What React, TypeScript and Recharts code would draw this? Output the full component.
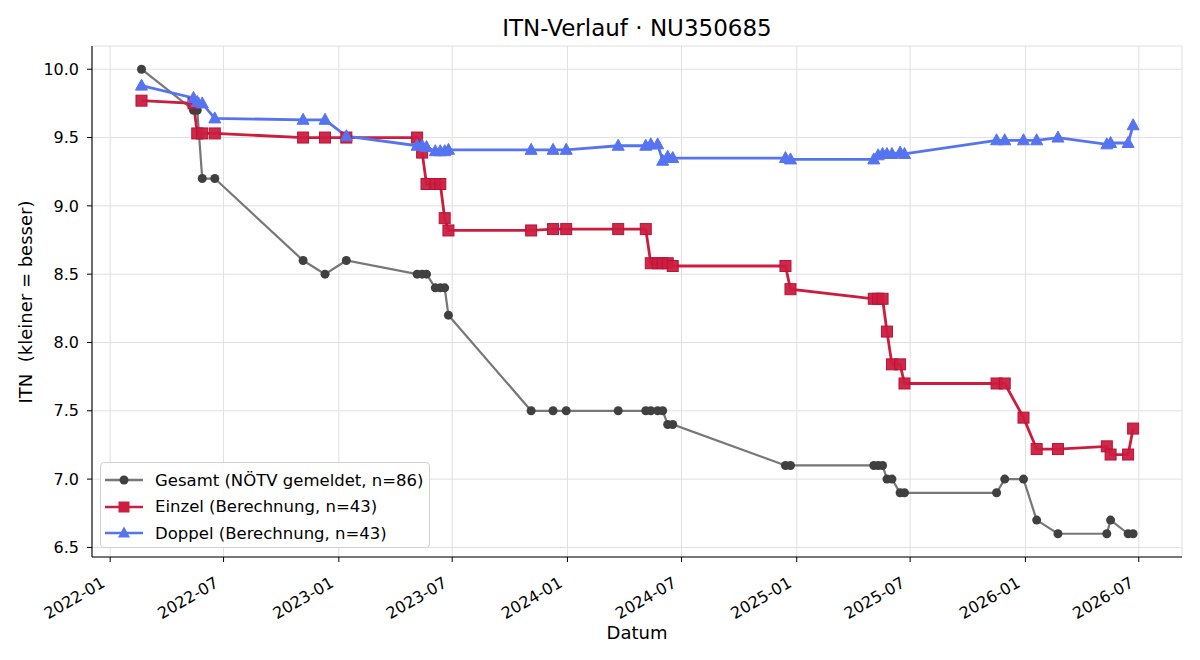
import React from 'react';
import { LineChart, Line, XAxis, YAxis, CartesianGrid, Legend } from 'recharts';

// Messzeitpunkte (gemeinsam für alle drei Reihen)
const dates = [
  '2022-02-20', '2022-05-14', '2022-05-20', '2022-05-28', '2022-06-17',
  '2022-11-05', '2022-12-10', '2023-01-13', '2023-05-06', '2023-05-14',
  '2023-05-21', '2023-06-04', '2023-06-12', '2023-06-19', '2023-06-25',
  '2023-11-04', '2023-12-09', '2023-12-30', '2024-03-22', '2024-05-05',
  '2024-05-13', '2024-05-24', '2024-06-01', '2024-06-09', '2024-06-17',
  '2024-12-14', '2024-12-22', '2025-05-04', '2025-05-11', '2025-05-18',
  '2025-05-25', '2025-06-02', '2025-06-15', '2025-06-22', '2025-11-16',
  '2025-11-29', '2025-12-29', '2026-01-19', '2026-02-22', '2026-05-11',
  '2026-05-17', '2026-06-14', '2026-06-22',
];

const gesamt = [
  10.0, 9.7, 9.7, 9.2, 9.2, 8.6, 8.5, 8.6, 8.5, 8.5,
  8.5, 8.4, 8.4, 8.4, 8.2, 7.5, 7.5, 7.5, 7.5, 7.5,
  7.5, 7.5, 7.5, 7.4, 7.4, 7.1, 7.1, 7.1, 7.1, 7.1,
  7.0, 7.0, 6.9, 6.9, 6.9, 7.0, 7.0, 6.7, 6.6, 6.6,
  6.7, 6.6, 6.6,
];

const einzel = [
  9.77, 9.75, 9.53, 9.53, 9.53, 9.5, 9.5, 9.5, 9.5, 9.39,
  9.16, 9.16, 9.16, 8.91, 8.82, 8.82, 8.83, 8.83, 8.83, 8.83,
  8.58, 8.58, 8.58, 8.58, 8.56, 8.56, 8.39, 8.32, 8.32, 8.32,
  8.08, 7.84, 7.84, 7.7, 7.7, 7.7, 7.45, 7.22, 7.22, 7.24,
  7.18, 7.18, 7.37,
];

const doppel = [
  9.88, 9.79, 9.76, 9.75, 9.64, 9.63, 9.63, 9.51, 9.44, 9.44,
  9.43, 9.4, 9.4, 9.4, 9.41, 9.41, 9.41, 9.41, 9.44, 9.44,
  9.45, 9.45, 9.33, 9.36, 9.35, 9.35, 9.34, 9.34, 9.37, 9.38,
  9.38, 9.38, 9.39, 9.38, 9.48, 9.48, 9.48, 9.48, 9.5, 9.45,
  9.46, 9.46, 9.59,
];

const xTickMonths = [
  '2022-01', '2022-07', '2023-01', '2023-07', '2024-01',
  '2024-07', '2025-01', '2025-07', '2026-01', '2026-07',
];
const yTicks = [6.5, 7.0, 7.5, 8.0, 8.5, 9.0, 9.5, 10.0];
const xRange = ['2021-12-03', '2026-09-08'];
const yRange = [6.43, 10.17];

const FONT = '"DejaVu Sans", sans-serif';
const GREY_LINE = '#777777';
const GREY_DOT = '#404040';
const RED = '#cc1d3f';
const BLUE = '#5673f0';

const data = dates.map((d, i) => ({
  t: Date.parse(d),
  gesamt: gesamt[i],
  einzel: einzel[i],
  doppel: doppel[i],
}));
const xTicks = xTickMonths.map((m) => Date.parse(m + '-01'));
const xDomain = xRange.map((d) => Date.parse(d));

const fmtMonth = (t: number) => {
  const d = new Date(t);
  return `${d.getUTCFullYear()}-${String(d.getUTCMonth() + 1).padStart(2, '0')}`;
};

const CircleDot = (props: any) => {
  const { cx, cy, index } = props;
  if (cx == null || cy == null) return null;
  return <circle key={`c${index}`} cx={cx} cy={cy} r={4.5} fill={GREY_DOT} />;
};

const SquareDot = (props: any) => {
  const { cx, cy, index } = props;
  if (cx == null || cy == null) return null;
  return (
    <rect key={`s${index}`} x={cx - 5.5} y={cy - 5.5} width={11} height={11}
      fill={RED} stroke="#b8123a" strokeWidth={1} fillOpacity={0.95} />
  );
};

const TriangleDot = (props: any) => {
  const { cx, cy, index } = props;
  if (cx == null || cy == null) return null;
  return (
    <polygon key={`t${index}`}
      points={`${cx},${cy - 6.5} ${cx - 6},${cy + 4.5} ${cx + 6},${cy + 4.5}`}
      fill={BLUE} stroke={BLUE} strokeWidth={1} />
  );
};

const XTick = (props: any) => {
  const { x, y, payload } = props;
  const ax = x - 4;
  const ay = y + 22;
  return (
    <text x={ax} y={ay} textAnchor="end" fontSize={16} fontFamily={FONT}
      fill="#000" transform={`rotate(-30, ${ax}, ${ay})`}>
      {fmtMonth(payload.value)}
    </text>
  );
};

const legendItems = [
  { label: 'Gesamt (NÖTV gemeldet, n=86)', color: GREY_LINE, marker: 'circle' },
  { label: 'Einzel (Berechnung, n=43)', color: RED, marker: 'square' },
  { label: 'Doppel (Berechnung, n=43)', color: BLUE, marker: 'triangle' },
];

const LegendBox = () => (
  <div style={{
    background: 'rgba(255,255,255,0.85)', border: '1px solid #d0d0d0', borderRadius: 4,
    width: 330, height: 86, paddingTop: 4, boxSizing: 'border-box', fontFamily: FONT, fontSize: 16.5,
  }}>
    {legendItems.map((it) => (
      <div key={it.label} style={{ display: 'flex', alignItems: 'center', height: 26.5 }}>
        <svg width={38} height={16} style={{ marginLeft: 4 }}>
          <line x1={0} y1={8} x2={38} y2={8} stroke={it.color} strokeWidth={2.5} />
          {it.marker === 'circle' && <circle cx={19} cy={8} r={4.5} fill={GREY_DOT} />}
          {it.marker === 'square' && <rect x={13.5} y={2.5} width={11} height={11} fill={RED} />}
          {it.marker === 'triangle' && <polygon points="19,1.5 13,12.5 25,12.5" fill={BLUE} />}
        </svg>
        <span style={{ marginLeft: 12, color: '#000', whiteSpace: 'nowrap' }}>{it.label}</span>
      </div>
    ))}
  </div>
);

export default function App() {
  return (
    <div style={{ position: 'absolute', left: 0, top: 0, width: 1200, height: 660, background: '#fff', fontFamily: FONT }}>
      <div style={{ position: 'absolute', left: 92, top: 14, width: 1090, textAlign: 'center', fontSize: 23, lineHeight: '28px' }}>
        ITN-Verlauf · NU350685
      </div>
      <div style={{ position: 'absolute', left: 92, top: 622, width: 1090, textAlign: 'center', fontSize: 18, lineHeight: '22px' }}>
        Datum
      </div>
      <div style={{
        position: 'absolute', left: 26, top: 302, fontSize: 18, whiteSpace: 'pre', lineHeight: '22px',
        transform: 'translate(-50%, -50%) rotate(-90deg)',
      }}>
        {'ITN  (kleiner = besser)'}
      </div>
      <LineChart width={1200} height={660} data={data} margin={{ top: 46, right: 18, left: 0, bottom: 0 }}>
        <CartesianGrid stroke="#e0e0e0" strokeWidth={1} />
        <XAxis dataKey="t" type="number" scale="time" domain={xDomain} ticks={xTicks}
          allowDataOverflow height={103} tick={<XTick />} tickSize={5}
          tickLine={{ stroke: '#000' }} axisLine={{ stroke: '#000', strokeWidth: 1.1 }} />
        <XAxis xAxisId="top" dataKey="t" type="number" domain={xDomain} orientation="top"
          height={0} tick={false} tickLine={false} axisLine={{ stroke: '#000', strokeWidth: 1.1 }} />
        <YAxis type="number" domain={yRange} ticks={yTicks} allowDataOverflow width={92}
          tickFormatter={(v: number) => v.toFixed(1)} tickSize={5} tickMargin={8}
          tick={{ fill: '#000', fontSize: 16, fontFamily: FONT }}
          tickLine={{ stroke: '#000' }} axisLine={{ stroke: '#000', strokeWidth: 1.1 }} />
        <YAxis yAxisId="right" type="number" domain={yRange} orientation="right" width={0}
          tick={false} tickLine={false} axisLine={{ stroke: '#000', strokeWidth: 1.1 }} />
        <Legend layout="vertical" align="center" verticalAlign="middle" content={<LegendBox />}
          wrapperStyle={{ position: 'absolute', left: 100, top: 462, width: 330 }} />
        <Line dataKey="gesamt" stroke={GREY_LINE} strokeWidth={2.2} dot={CircleDot}
          activeDot={false} isAnimationActive={false} />
        <Line dataKey="einzel" stroke={RED} strokeWidth={2.8} dot={SquareDot}
          activeDot={false} isAnimationActive={false} />
        <Line dataKey="doppel" stroke={BLUE} strokeWidth={2.8} dot={TriangleDot}
          activeDot={false} isAnimationActive={false} />
      </LineChart>
    </div>
  );
}
